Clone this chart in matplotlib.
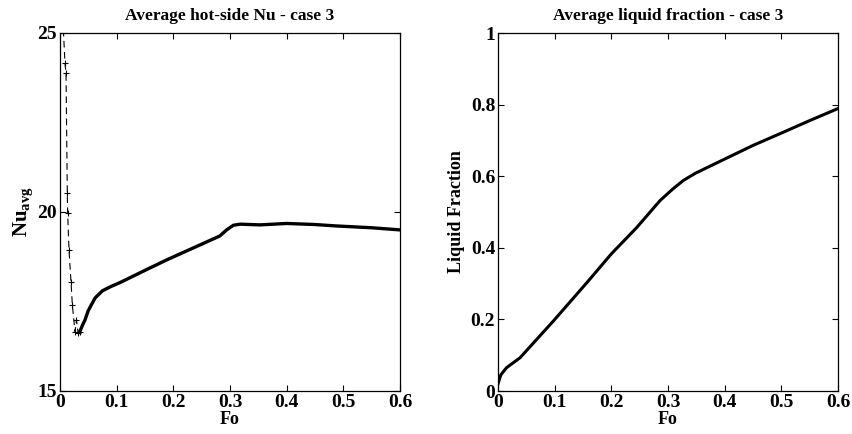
import numpy as np
import matplotlib.pyplot as plt

# Nu data, early transient (dashed with markers)
fo_early = [0.005, 0.0088, 0.0106, 0.0129, 0.0135, 0.0159, 0.0194, 0.0218, 0.0265, 0.029, 0.032, 0.035]
nu_early = [25.4, 24.15, 23.87, 20.53, 19.97, 18.94, 18.05, 17.4, 16.66, 16.98, 16.62, 16.66]

# Nu data, main curve
fo_nu = [0.035, 0.04, 0.044, 0.05, 0.062, 0.075, 0.09, 0.106, 0.15, 0.188, 0.247,
         0.282, 0.294, 0.306, 0.318, 0.353, 0.4, 0.45, 0.488, 0.55, 0.6]
nu_avg = [16.66, 16.85, 16.98, 17.25, 17.6, 17.8, 17.92, 18.03, 18.37, 18.66, 19.08,
          19.33, 19.5, 19.63, 19.66, 19.64, 19.68, 19.65, 19.61, 19.56, 19.5]

# liquid fraction
fo_lf = [0.0, 0.005, 0.015, 0.039, 0.098, 0.157, 0.2, 0.245, 0.286, 0.309, 0.327, 0.348,
         0.395, 0.45, 0.498, 0.551, 0.6]
liq_frac = [0.02, 0.045, 0.065, 0.093, 0.196, 0.303, 0.383, 0.457, 0.532, 0.565, 0.588, 0.608,
            0.644, 0.686, 0.719, 0.756, 0.789]

plt.rcParams['font.family'] = 'Liberation Serif'
plt.rcParams['font.weight'] = 'bold'
plt.rcParams['mathtext.default'] = 'regular'

fig = plt.figure(figsize=(8.53, 4.34), dpi=100)
ax1 = fig.add_axes([60/853, 43/434, 340/853, 358/434])
ax2 = fig.add_axes([498/853, 43/434, 340/853, 358/434])

ax1.plot(fo_early, nu_early, 'k--+', lw=0.8, ms=4, mew=0.8, dashes=(6, 4))
ax1.plot(fo_nu, nu_avg, 'k-', lw=2.4)
ax1.set_xlim(0, 0.6)
ax1.set_ylim(15, 25)
ax1.set_yticks([15, 20, 25])
ax1.set_title('Average hot-side Nu - case 3', fontsize=12.5, fontweight='bold', pad=9)
ax1.set_xlabel('Fo', fontsize=13, fontweight='bold', labelpad=0)
ax1.set_ylabel(r'Nu$_{avg}$', fontsize=15, fontweight='bold', labelpad=2)

ax2.plot(fo_lf, liq_frac, 'k-', lw=2.2)
ax2.set_xlim(0, 0.6)
ax2.set_ylim(0, 1)
ax2.set_yticks([0, 0.2, 0.4, 0.6, 0.8, 1])
ax2.set_title('Average liquid fraction - case 3', fontsize=12.5, fontweight='bold', pad=9)
ax2.set_xlabel('Fo', fontsize=13, fontweight='bold', labelpad=0)
ax2.set_ylabel('Liquid Fraction', fontsize=13, fontweight='bold', labelpad=4)

for ax in (ax1, ax2):
    ax.set_xticks([0, 0.1, 0.2, 0.3, 0.4, 0.5, 0.6])
    ax.xaxis.set_major_formatter(plt.FormatStrFormatter('%g'))
    ax.yaxis.set_major_formatter(plt.FormatStrFormatter('%g'))
    ax.tick_params(direction='in', top=True, right=True, length=4, width=0.8,
                   labelsize=14, pad=2)
    for lab in ax.get_xticklabels() + ax.get_yticklabels():
        lab.set_fontweight('bold')
    for s in ax.spines.values():
        s.set_linewidth(0.9)

fig.savefig('out.png', dpi=100)
